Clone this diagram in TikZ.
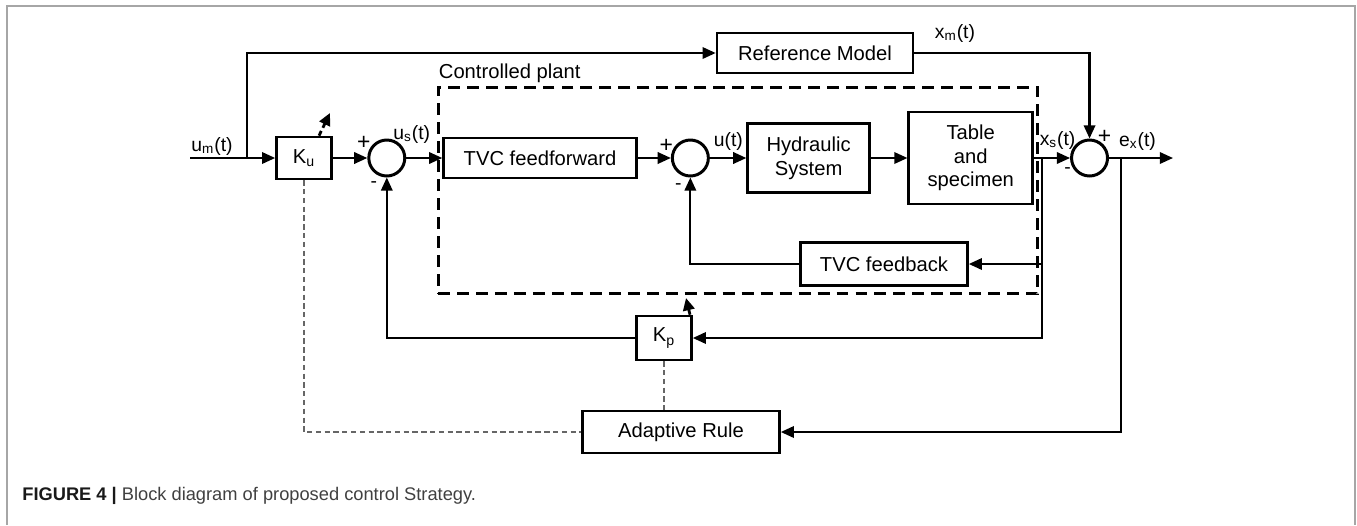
\documentclass[tikz,border=0pt]{standalone}
\usepackage{fontspec}
\setmainfont{Liberation Sans}
\usetikzlibrary{arrows.meta,positioning,calc}
\colorlet{framegray}{gray!70}

\begin{document}
\begin{tikzpicture}[x=0.02cm, y=-0.02cm,
block/.style={rectangle, draw, line width=1.5pt, align=center, inner sep=2pt, font=\fontsize{11.5pt}{13.4pt}\selectfont},
summer/.style={circle, draw, line width=1.7pt, minimum size=0.72cm, inner sep=0pt},
signal/.style={line width=1.25pt, -{Triangle[length=7.5pt,width=6.5pt]}},
tune/.style={line width=1.6pt, dash pattern=on 3pt off 2pt, -{Triangle[length=7pt,width=6.5pt]}},
rule link/.style={gray!80!black, line width=0.6pt, dash pattern=on 3pt off 2pt},
lbl/.style={font=\fontsize{11pt}{13pt}\selectfont, inner sep=0pt},
sign/.style={font=\fontsize{13pt}{14pt}\selectfont, inner sep=0pt}]

\useasboundingbox (0,0) rectangle (1357,525);
\draw[framegray, line width=0.9pt] (7,525) -- (7,6) -- (1355,6) -- (1355,525);

% BLOCKS

\node [block, minimum width=1.1cm, minimum height=0.84cm] (ku) at (304,158) {K\textsubscript{u}};
\node [summer, right=0.69cm of ku] (sum-in) {};
\node [block, minimum width=3.86cm, minimum height=0.8cm, right=0.72cm of sum-in] (tvc-ff) {TVC feedforward};
\node [summer, right=0.66cm of tvc-ff] (sum-plant) {};
\node [block, minimum width=2.44cm, minimum height=1.38cm, right=0.73cm of sum-plant] (hydraulic) {Hydraulic\\System};
\node [block, minimum width=2.48cm, minimum height=1.84cm, right=0.73cm of hydraulic] (table) {Table\\and\\specimen};
\node [summer, right=0.72cm of table] (sum-out) {};

\node [block, minimum width=3.34cm, minimum height=0.86cm] (tvc-fb) at (884,264) {TVC feedback};
\node [block, minimum width=1.1cm, minimum height=0.88cm] (kp) at (664,338) {K\textsubscript{p}};
\node [block, minimum width=3.94cm, minimum height=0.84cm] (adaptive) at (681,432) {Adaptive Rule};
\node [block, minimum width=3.92cm, minimum height=0.8cm] (ref-model) at (815,53) {Reference Model};

\node [draw, line width=1.7pt, dash pattern=on 6.8pt off 4pt, minimum width=12cm, minimum height=4.14cm, inner sep=0pt] (plant) at (738,190.5) {};
\node [lbl, anchor=base west, font=\fontsize{11.5pt}{13pt}\selectfont] (plant-label) at ([xshift=0.04cm, yshift=0.14cm]plant.north west) {Controlled plant};

% SIGNALS

\coordinate (u-in) at (190,158);
\coordinate (split-ref) at (247,158);
\coordinate (x-split) at (1042,158);
\coordinate (e-split) at (1121,158);
\coordinate (e-out) at (1173,158);

\draw[signal] (u-in) -- (ku);
\draw[signal] (split-ref) |- (ref-model);
\draw[signal] (ku) -- (sum-in);
\draw[signal] (sum-in) -- (tvc-ff);
\draw[signal] (tvc-ff) -- (sum-plant);
\draw[signal] (sum-plant) -- (hydraulic);
\draw[signal] (hydraulic) -- (table);
\draw[signal] (table) -- (sum-out);
\draw[signal] (ref-model) -| (sum-out);
\draw[signal] (sum-out) -- (e-out);
\draw[signal] (x-split) |- (tvc-fb);
\draw[signal] (x-split) |- (kp);
\draw[signal] (tvc-fb) -| (sum-plant);
\draw[signal] (kp) -| (sum-in);
\draw[signal] (e-split) |- (adaptive);

\draw[rule link] (ku) |- (adaptive);
\draw[rule link] (kp) -- (kp |- adaptive.north);

\coordinate (ku-tune) at (330,113);
\coordinate (kp-tune) at (686,298);
\draw[tune] ([xshift=0.3cm]ku.north) -- (ku-tune);
\draw[tune] ([xshift=0.52cm]kp.north) -- (kp-tune);

% LABELS

\node [lbl] (um-label) at (212,146) {u\textsubscript{m}(t)};
\node [lbl] (us-label) at ([shift={(25,-24)}]sum-in) {u\textsubscript{s}(t)};
\node [lbl] (u-label) at ([shift={(38,-17)}]sum-plant) {u(t)};
\node [lbl] (xs-label) at ([shift={(-32,-18)}]sum-out) {x\textsubscript{s}(t)};
\node [lbl] (ex-label) at ([shift={(48,-17)}]sum-out) {e\textsubscript{x}(t)};
\node [lbl] (xm-label) at (955,33) {x\textsubscript{m}(t)};

\node [sign] (plus-in) at ([shift={(-23,-15)}]sum-in) {+};
\node [lbl] (minus-in) at ([shift={(-13,27)}]sum-in) {-};
\node [sign] (plus-plant) at ([shift={(-24,-12)}]sum-plant) {+};
\node [lbl] (minus-plant) at ([shift={(-12,29)}]sum-plant) {-};
\node [sign] (plus-out) at ([shift={(15,-21)}]sum-out) {+};
\node [lbl] (minus-out) at ([shift={(-22,13)}]sum-out) {-};

\node [anchor=west, inner sep=0pt, text=black!75, font=\fontsize{10.4pt}{12pt}\selectfont] (caption) at (22,496) {\textcolor{black!90}{\textbf{FIGURE 4 |}} Block diagram of proposed control Strategy.};

\end{tikzpicture}
\end{document}
